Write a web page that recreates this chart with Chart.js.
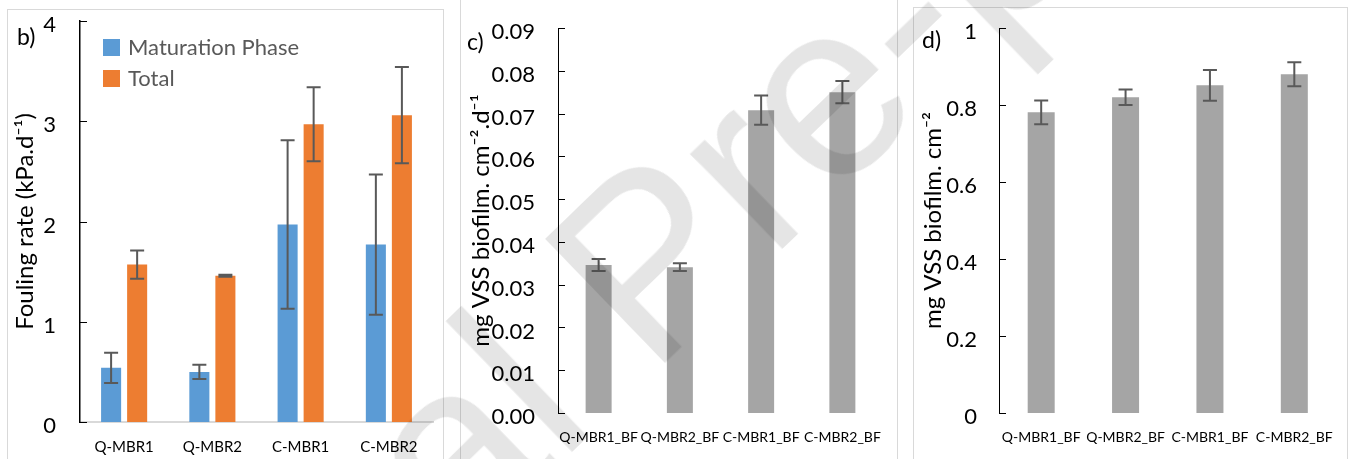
<!DOCTYPE html>
<html>
<head>
<meta charset="utf-8">
<script src="https://cdn.jsdelivr.net/npm/chart.js@4.4.0/dist/chart.umd.min.js"></script>
<style>
  body { margin: 0; background: #fff; width: 1354px; height: 459px; overflow: hidden; position: relative; font-family: Lato, sans-serif; }
  .moldura { position: absolute; border: 1px solid #d9d9d9; }
  canvas { position: absolute; top: 0; }
  #marcaDagua {
    position: absolute; left: 645px; top: 262px;
    font-family: "Liberation Sans", Arial, sans-serif; font-size: 250px; line-height: 1;
    color: rgba(0, 0, 0, 0.1); white-space: nowrap; pointer-events: none;
    transform: translate(-50%, -50%) rotate(-44deg);
  }
</style>
</head>
<body>
<div class="moldura" style="left:7px;top:9px;width:435px;height:470px"></div>
<div class="moldura" style="left:460px;top:-5px;width:436px;height:463px"></div>
<div class="moldura" style="left:913px;top:7px;width:433px;height:470px"></div>

<canvas id="graficoFouling" width="450" height="459" style="left:0"></canvas>
<canvas id="graficoTaxa" width="450" height="459" style="left:450px"></canvas>
<canvas id="graficoMassa" width="454" height="459" style="left:900px"></canvas>

<div id="marcaDagua">Journal Pre-proof</div>

<script>
// dados
const reatores = ['Q-MBR1', 'Q-MBR2', 'C-MBR1', 'C-MBR2'];
const maturacao = [0.54, 0.50, 1.97, 1.77];
const maturacaoErro = [0.15, 0.07, 0.84, 0.70];
const total = [1.57, 1.46, 2.97, 3.06];
const totalErro = [0.14, 0.01, 0.37, 0.48];

const reatoresBF = ['Q-MBR1_BF', 'Q-MBR2_BF', 'C-MBR1_BF', 'C-MBR2_BF'];
const taxaBiofilme = [0.0346, 0.0341, 0.0708, 0.0750];
const taxaBiofilmeErro = [0.0014, 0.0009, 0.0034, 0.0026];
const massaBiofilme = [0.781, 0.820, 0.851, 0.880];
const massaBiofilmeErro = [0.031, 0.020, 0.040, 0.031];


const barrasErro = {
  id: 'barrasErro',
  afterDatasetsDraw(chart) {
    const ctx = chart.ctx;
    const escalaY = chart.scales.y;
    chart.data.datasets.forEach((ds, i) => {
      chart.getDatasetMeta(i).data.forEach((barra, j) => {
        const topo = escalaY.getPixelForValue(ds.data[j] + ds.erros[j]);
        const base = escalaY.getPixelForValue(ds.data[j] - ds.erros[j]);
        ctx.save();
        ctx.strokeStyle = '#595959';
        ctx.lineWidth = 2;
        ctx.beginPath();
        ctx.moveTo(barra.x, topo);
        ctx.lineTo(barra.x, base);
        ctx.moveTo(barra.x - 7, topo);
        ctx.lineTo(barra.x + 7, topo);
        ctx.moveTo(barra.x - 7, base);
        ctx.lineTo(barra.x + 7, base);
        ctx.stroke();
        ctx.restore();
      });
    });
  }
};

// marcas do eixo y voltadas para dentro
const marcasEixo = {
  id: 'marcasEixo',
  afterDraw(chart) {
    const ctx = chart.ctx;
    const escalaY = chart.scales.y;
    const x0 = chart.chartArea.left;
    ctx.save();
    ctx.strokeStyle = '#000';
    ctx.lineWidth = 1;
    escalaY.ticks.forEach(t => {
      const py = Math.round(escalaY.getPixelForValue(t.value)) + 0.5;
      ctx.beginPath();
      ctx.moveTo(x0, py);
      ctx.lineTo(x0 + 7, py);
      ctx.stroke();
    });
    ctx.restore();
  }
};

const rotuloPainel = {
  id: 'rotuloPainel',
  afterDraw(chart, args, opts) {
    const ctx = chart.ctx;
    ctx.save();
    ctx.font = '23px Lato';
    ctx.fillStyle = '#000';
    ctx.textBaseline = 'middle';
    ctx.fillText(opts.texto, opts.x, opts.y);
    ctx.restore();
  }
};

const legendaInterna = {
  id: 'legendaInterna',
  afterDraw(chart, args, opts) {
    if (!opts.mostrar) return;
    const ctx = chart.ctx;
    const area = chart.chartArea;
    ctx.save();
    ctx.font = '22px Lato';
    ctx.textBaseline = 'middle';
    chart.data.datasets.forEach((ds, i) => {
      const y = area.top + 18 + i * 31;
      ctx.fillStyle = ds.backgroundColor;
      ctx.fillRect(area.left + 23, y, 17, 17);
      ctx.fillStyle = '#595959';
      ctx.fillText(ds.label, area.left + 48, y + 9);
    });
    ctx.restore();
  }
};


function criarGrafico(id, rotulos, datasets, escalaY, config) {
  const ctx = document.getElementById(id).getContext('2d');
  return new Chart(ctx, {
    type: 'bar',
    data: { labels: rotulos, datasets: datasets },
    options: {
      responsive: false,
      animation: false,
      layout: { padding: { left: 0, top: config.topo, right: config.direita, bottom: 0 } },
      datasets: { bar: { categoryPercentage: config.categoria, barPercentage: config.barra } },
      plugins: {
        legend: { display: false },
        tooltip: { enabled: false },
        rotuloPainel: config.rotulo,
        legendaInterna: { mostrar: config.legenda }
      },
      scales: {
        x: {
          grid: { display: false, drawTicks: false },
          border: { display: config.eixoX, color: '#d9d9d9', width: 2 },
          ticks: { color: '#000', font: { family: 'Lato', size: config.fonteX }, padding: 16, maxRotation: 0, autoSkip: false },
          afterFit: s => {
            s.height = config.alturaX;
            s.paddingLeft = 0; s.paddingRight = 0;
          }
        },
        y: Object.assign({
          grid: { display: false, drawTicks: false },
          border: { display: true, color: '#000', width: config.larguraEixo },
          title: { display: true, text: config.titulo, color: '#000', font: { family: 'Lato', size: 24 }, padding: { top: config.recuoTitulo } },
          afterFit: s => {
            s.width = config.larguraY;
            s.paddingTop = 0; s.paddingBottom = 0;
          }
        }, escalaY)
      }
    },
    plugins: [barrasErro, marcasEixo, rotuloPainel, legendaInterna]
  });
}

const fonteTicks = { family: 'Lato', size: 22 };

const graficoFouling = criarGrafico('graficoFouling', reatores, [
  { label: 'Maturation Phase', data: maturacao, erros: maturacaoErro, backgroundColor: '#5b9bd5' },
  { label: 'Total', data: total, erros: totalErro, backgroundColor: '#ed7d31' }
], { min: 0, max: 4, ticks: { stepSize: 1, color: '#000', font: fonteTicks, padding: 24, labelOffset: 4 } }, {
  topo: 21, direita: 17, categoria: 0.59, barra: 0.77, eixoX: true, fonteX: 15, alturaX: 37,
  larguraEixo: 1.5, titulo: 'Fouling rate (kPa.d⁻¹)', recuoTitulo: 11, larguraY: 80,
  rotulo: { texto: 'b)', x: 17, y: 38 }, legenda: true
});

const graficoTaxa = criarGrafico('graficoTaxa', reatoresBF, [
  { label: 'Biofilm', data: taxaBiofilme, erros: taxaBiofilmeErro, backgroundColor: '#a5a5a5' }
], { min: 0, max: 0.09, ticks: { stepSize: 0.01, color: '#000', font: fonteTicks, padding: 23, labelOffset: 4, callback: v => v.toFixed(2) } }, {
  topo: 28, direita: 17, categoria: 1, barra: 0.32, eixoX: false, fonteX: 14, alturaX: 46,
  larguraEixo: 1, titulo: 'mg VSS biofilm. cm⁻².d⁻¹', recuoTitulo: 17, larguraY: 108,
  rotulo: { texto: 'c)', x: 17, y: 43 }, legenda: false
});

const graficoMassa = criarGrafico('graficoMassa', reatoresBF, [
  { label: 'Biofilm', data: massaBiofilme, erros: massaBiofilmeErro, backgroundColor: '#a5a5a5' }
], { min: 0, max: 1, ticks: { stepSize: 0.2, color: '#000', font: fonteTicks, padding: 22, labelOffset: 4, callback: v => String(Math.round(v * 10) / 10) } }, {
  topo: 28, direita: 17.5, categoria: 1, barra: 0.32, eixoX: false, fonteX: 14, alturaX: 46,
  larguraEixo: 1, titulo: 'mg VSS biofilm. cm⁻²', recuoTitulo: 19, larguraY: 99,
  rotulo: { texto: 'd)', x: 22, y: 41 }, legenda: false
});
</script>
</body>
</html>
